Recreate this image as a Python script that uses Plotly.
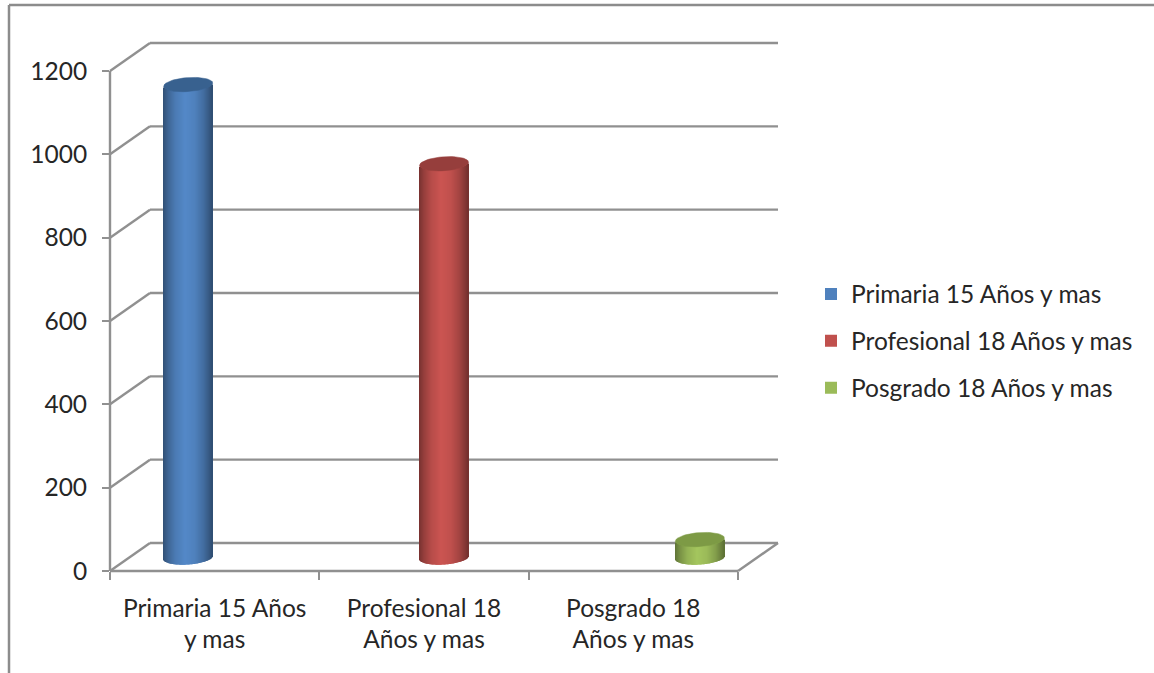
import math
import plotly.graph_objects as go

categories = ["Primaria 15 Años<br>y mas", "Profesional 18<br>Años y mas", "Posgrado 18<br>Años y mas"]
series_names = ["Primaria 15 Años y mas", "Profesional 18 Años y mas", "Posgrado 18 Años y mas"]
series_values = [1135, 945, 43]
series_colors = ["#4f81bd", "#c0504d", "#9bbb59"]
cap_colors = ["#38618f", "#963e3c", "#7d9a45"]
y_ticks = [0, 200, 400, 600, 800, 1000, 1200]

W, H = 1154, 673
L, R, T, B = 110, 778, 43, 571
PX_PER_CAT = (738 - 110) / 3
PX_PER_VAL = 500 / 1200
X0, X1 = -0.5, -0.5 + (R - L) / PX_PER_CAT
Y0, Y1 = 0, (B - T) / PX_PER_VAL
DX = 40 / PX_PER_CAT
DY = 28 / PX_PER_VAL
CLUSTER = 46.5 / PX_PER_CAT
HALF_W = 24.5 / PX_PER_CAT
ELL_B = 7.0 / PX_PER_VAL
ELL_T = 1.6 / PX_PER_VAL
FLOOR = 13.5 / PX_PER_VAL
GRID = "#909090"
TEXT = "#262626"
FONT = "Lato"


def px(x):
    return (x - X0) / (X1 - X0)


def py(v):
    return (v - Y0) / (Y1 - Y0)


def shade(hex_color, f):
    rgb = [int(hex_color[i:i + 2], 16) for i in (1, 3, 5)]
    return "rgb(%d,%d,%d)" % tuple(min(255, int(c * f)) for c in rgb)


def profile(u):
    stops = [(-1, .62), (-.8, .78), (-.5, .95), (-.1, 1.06), (.3, 1.0), (.65, .85), (.9, .68), (1, .6)]
    for (a, fa), (b, fb) in zip(stops, stops[1:]):
        if a <= u <= b:
            return fa + (fb - fa) * (u - a) / (b - a)
    return 1


shapes = []


def seg(x0, v0, x1, v1, width=2.4):
    shapes.append(dict(type="line", xref="paper", yref="paper", layer="below",
                       x0=px(x0), x1=px(x1), y0=py(v0), y1=py(v1),
                       line=dict(color=GRID, width=width)))


for v in y_ticks:
    seg(X0, v, X0 + DX, v + DY)
    seg(X0 + DX, v + DY, 2.5 + DX, v + DY)
seg(X0, 0, X0, 1200)
seg(X0, 0, 2.5, 0)
seg(2.5, 0, 2.5 + DX, DY)

# outer frame of the chart area (pixel positions converted to the plot's paper space)
fx = lambda p: (p - L) / (R - L)
fy = lambda p: (B - p) / (B - T)
for xa, ya, xb, yb in [(9, 5, W, 5), (9, 5, 9, H)]:
    shapes.append(dict(type="line", xref="paper", yref="paper", x0=fx(xa), x1=fx(xb), y0=fy(ya), y1=fy(yb),
                       line=dict(color="#8c8c8c", width=2.5)))

fig = go.Figure()
N = 49
for i, (name, val, col, cap) in enumerate(zip(series_names, series_values, series_colors, cap_colors)):
    cx = i + DX / 2 + (i - 1) * CLUSTER
    fig.add_trace(go.Bar(x=[cx], y=[val], base=[FLOOR], width=[2 * HALF_W * .98], name=name,
                         legendgroup=name, marker=dict(color=col, line=dict(width=0)), hoverinfo="skip"))
    xs, bases, cols = [], [], []
    step = 2 / N
    for j in range(N):
        u = -1 + (j + .5) * step
        xs.append(cx + u * HALF_W)
        bases.append(FLOOR - ELL_B * math.sqrt(1 - u * u) + ELL_T * u)
        cols.append(shade(col, profile(u)))
    fig.add_trace(go.Bar(x=xs, y=[val] * N, base=bases, width=[step * HALF_W * 1.3] * N,
                         marker=dict(color=cols, line=dict(width=0)), showlegend=False,
                         legendgroup=name, hoverinfo="skip"))
    ts = [k * 2 * math.pi / 60 for k in range(61)]
    fig.add_trace(go.Scatter(
        x=[cx + HALF_W * math.cos(t) for t in ts],
        y=[FLOOR + val + ELL_B * math.sin(t) + ELL_T * math.cos(t) for t in ts],
        mode="lines", fill="toself", fillcolor=cap, line=dict(color=cap, width=0.5),
        showlegend=False, legendgroup=name, hoverinfo="skip"))

fig.update_layout(
    width=W, height=H, margin=dict(l=L, r=W - R, t=T, b=H - B, autoexpand=False),
    paper_bgcolor="white", plot_bgcolor="white", barmode="overlay", shapes=shapes,
    font=dict(family=FONT, color=TEXT),
    xaxis=dict(range=[X0, X1], tickmode="array", tickvals=[0, 1, 2], ticktext=categories,
               ticks="", showgrid=False, zeroline=False, showline=False,
               tickfont=dict(size=24.5, family=FONT, color=TEXT), tickangle=0, ticklabelstandoff=20,
               minor=dict(tickmode="array", tickvals=[-.5, .5, 1.5, 2.5], ticks="outside",
                          ticklen=8, tickwidth=2, tickcolor=GRID, showgrid=False)),
    yaxis=dict(range=[Y0, Y1], tickmode="array", tickvals=y_ticks, ticks="outside", ticklen=7,
               tickwidth=2, tickcolor=GRID, showgrid=False, zeroline=False, showline=False,
               tickfont=dict(size=24.5, family=FONT, color=TEXT), ticklabelstandoff=10),
    legend=dict(x=(811 - L) / (R - L), y=1 - (271.5 - T) / (B - T), xanchor="left", yanchor="top",
                font=dict(size=24.5, family=FONT, color=TEXT), tracegroupgap=12,
                itemclick=False, itemdoubleclick=False, bgcolor="rgba(0,0,0,0)"),
    showlegend=True,
)
fig.write_html("out.html", config=dict(displayModeBar=False),
               post_script="document.body.style.margin='0';")
